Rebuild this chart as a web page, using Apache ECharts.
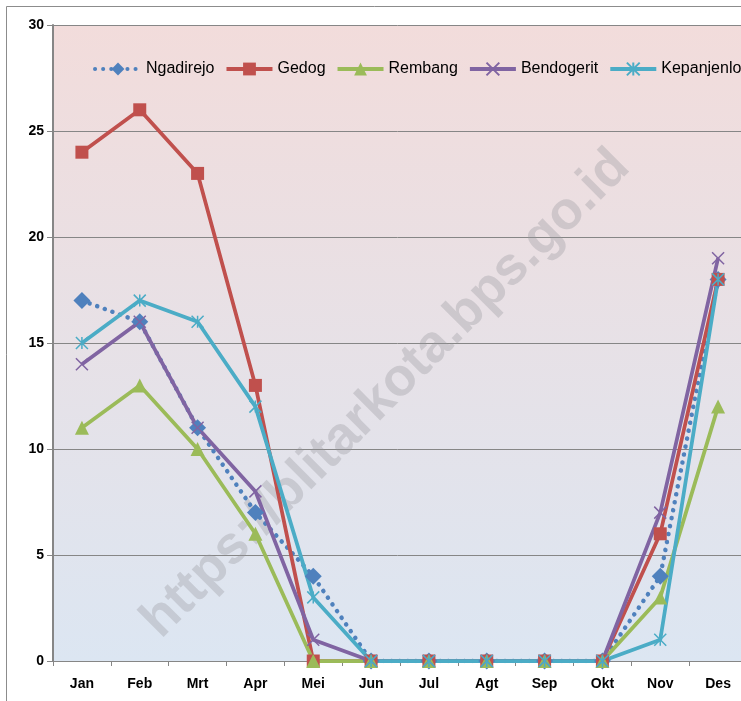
<!DOCTYPE html>
<html>
<head>
<meta charset="utf-8">
<script src="https://cdn.jsdelivr.net/npm/echarts@6/dist/echarts.min.js"></script>
<style>
  html, body { margin: 0; padding: 0; background: #fff; }
  #chart { width: 741px; height: 701px; }
</style>
</head>
<body>
<div id="chart"></div>
<script>
// bulan
var months = ['Jan', 'Feb', 'Mrt', 'Apr', 'Mei', 'Jun', 'Jul', 'Agt', 'Sep', 'Okt', 'Nov', 'Des'];
// nilai per kelurahan
var ngadirejo   = [17, 16, 11, 7, 4, 0, 0, 0, 0, 0, 4, 18];
var gedog       = [24, 26, 23, 13, 0, 0, 0, 0, 0, 0, 6, 18];
var rembang     = [11, 13, 10, 6, 0, 0, 0, 0, 0, 0, 3, 12];
var bendogerit  = [14, 16, 11, 8, 1, 0, 0, 0, 0, 0, 7, 19];
var kepanjenlor = [15, 17, 16, 12, 3, 0, 0, 0, 0, 0, 1, 18];

var crossPath = 'path://M0,0L10,10M10,0L0,10';
var starPath = 'path://M0,0L10,10M10,0L0,10M5,0L5,10';

var myChart = echarts.init(document.getElementById('chart'));

function mkSeries(name, data, color, symbol, size, extra) {
    var s = {
        name: name,
        type: 'line',
        data: data,
        symbol: symbol,
        symbolSize: size,
        showAllSymbol: true,
        lineStyle: { color: color, width: 3.75 },
        itemStyle: { color: color, borderColor: color, borderWidth: 0 },
        emphasis: { disabled: true },
        animation: false
    };
    if (extra) extra(s);
    return s;
}

myChart.setOption({
    backgroundColor: '#ffffff',
    textStyle: { fontFamily: 'Liberation Sans' },
    grid: {
        left: 53,
        width: 694,
        top: 25,
        bottom: 40,
        outerBoundsMode: 'none',
        containLabel: false,
        show: true,
        borderWidth: 0,
        backgroundColor: new echarts.graphic.LinearGradient(0, 0, 0, 1, [
            { offset: 0, color: '#f2dcdb' },
            { offset: 1, color: '#dce6f2' }
        ])
    },
    legend: {
        top: 56,
        left: 88,
        width: 900,
        itemWidth: 46,
        itemHeight: 16,
        itemGap: 10,
        lineStyle: { width: 4 },
        textStyle: { fontSize: 16, color: '#000', fontFamily: 'Liberation Sans' },
        data: ['Ngadirejo', 'Gedog', 'Rembang', 'Bendogerit', 'Kepanjenlor']
    },
    xAxis: {
        type: 'category',
        data: months,
        boundaryGap: true,
        axisLine: { lineStyle: { color: '#868686', width: 1 } },
        axisTick: { show: true, length: 5, lineStyle: { color: '#868686' } },
        axisLabel: { margin: 16, fontSize: 14, fontWeight: 'bold', color: '#000' }
    },
    yAxis: {
        type: 'value',
        min: 0,
        max: 30,
        interval: 5,
        axisLine: { show: true, lineStyle: { color: '#868686', width: 2 } },
        axisTick: { show: true, length: 6, lineStyle: { color: '#868686' } },
        axisLabel: { margin: 9, fontSize: 14, fontWeight: 'bold', color: '#000' },
        splitLine: { lineStyle: { color: '#868686', width: 1 } }
    },
    graphic: [
        {
            type: 'rect',
            shape: { x: 6.5, y: 6.5, width: 900, height: 900 },
            style: { fill: 'none', stroke: '#8c8c8c', lineWidth: 1 },
            silent: true,
            z: -1
        },
        {
            type: 'text',
            x: 386,
            y: 394,
            rotation: Math.PI / 4,
            style: {
                text: 'https://blitarkota.bps.go.id',
                fill: 'rgba(150,150,155,0.33)',
                font: 'bold 53px "Liberation Sans"',
                align: 'center',
                verticalAlign: 'middle'
            },
            silent: true,
            z: 1
        }
    ],
    series: [
        mkSeries('Ngadirejo', ngadirejo, '#4f81bd', 'diamond', 17, function (s) {
            s.lineStyle.type = [0.1, 8];
            s.lineStyle.cap = 'round';
            s.lineStyle.width = 4.5;
        }),
        mkSeries('Gedog', gedog, '#c0504d', 'rect', 13),
        mkSeries('Rembang', rembang, '#9bbb59', 'triangle', 14),
        mkSeries('Bendogerit', bendogerit, '#8064a2', crossPath, 12, function (s) {
            s.itemStyle.borderWidth = 1.5;
            s.itemStyle.color = 'transparent';
        }),
        mkSeries('Kepanjenlor', kepanjenlor, '#4bacc6', starPath, 12, function (s) {
            s.itemStyle.borderWidth = 1.5;
            s.itemStyle.color = 'transparent';
        })
    ]
});
</script>
</body>
</html>
